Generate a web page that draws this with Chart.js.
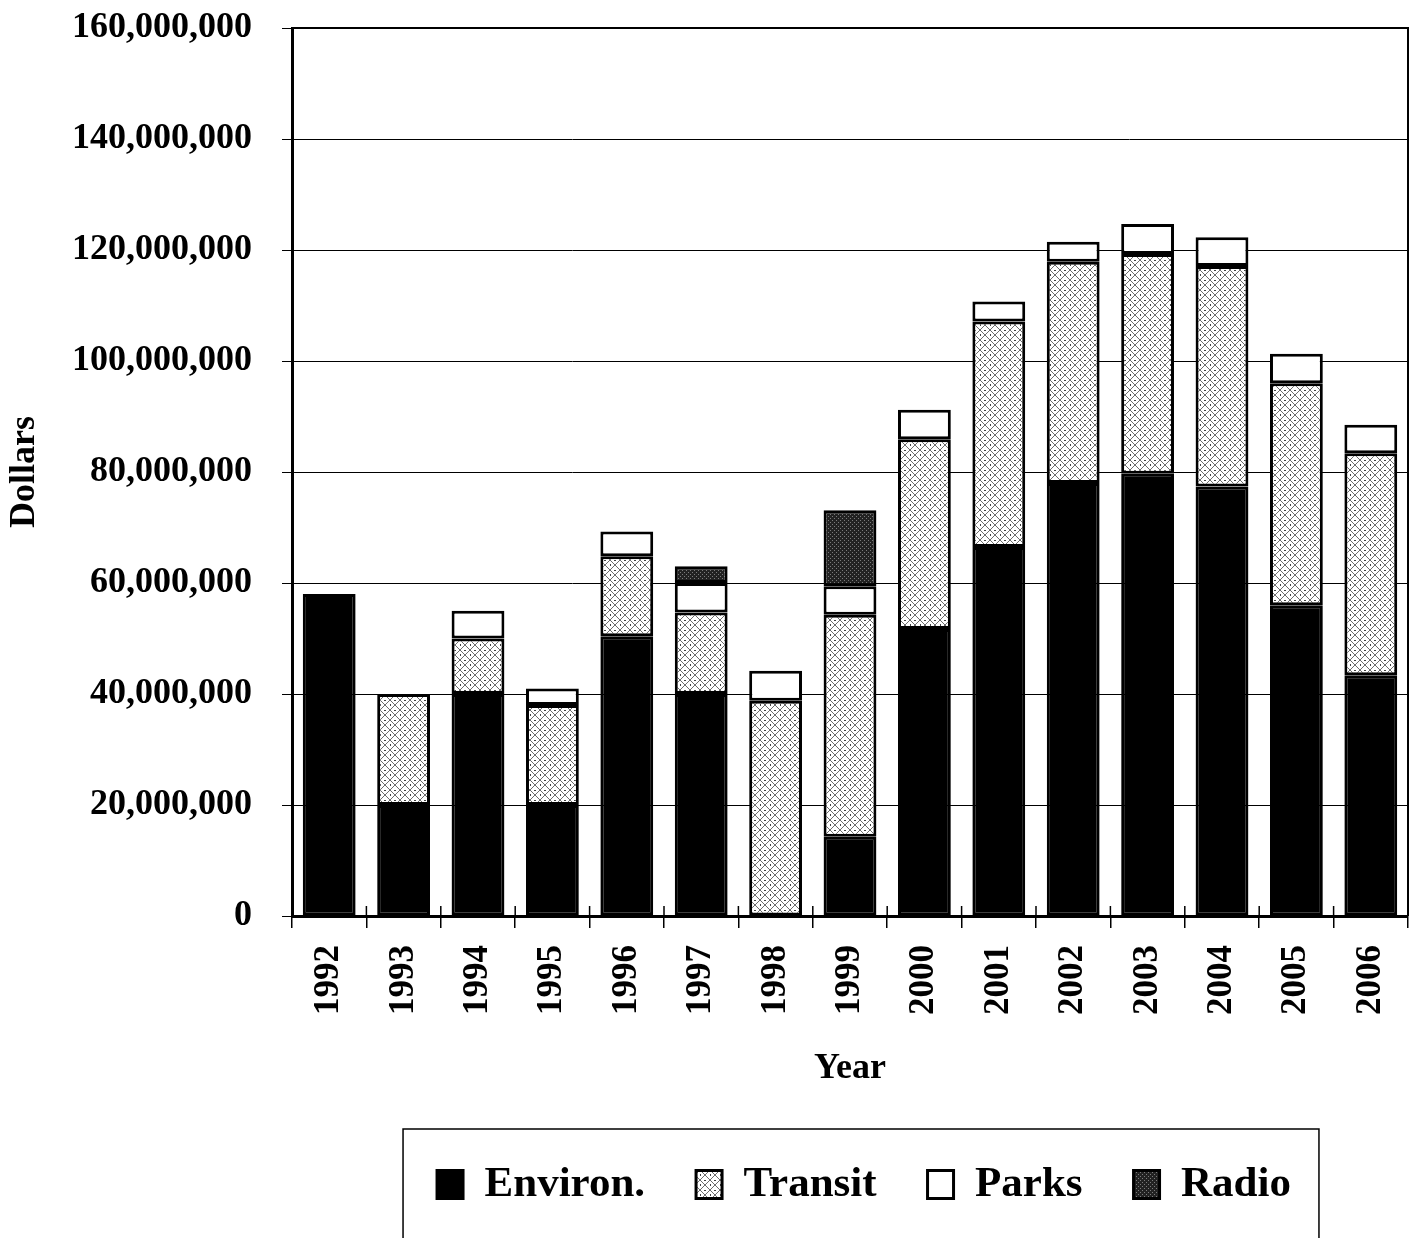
<!DOCTYPE html>
<html>
<head>
<meta charset="utf-8">
<title>Dollars by Year</title>
<script src="https://cdn.jsdelivr.net/npm/chart.js@4.4.1/dist/chart.umd.min.js"></script>
<style>
  body { margin: 0; background: #fff; }
  #chart { display: block; }
</style>
</head>
<body>
<canvas id="chart" width="1414" height="1238"></canvas>
<script>
// data (dollars)
const years = ["1992", "1993", "1994", "1995", "1996", "1997", "1998", "1999",
  "2000", "2001", "2002", "2003", "2004", "2005", "2006"];
const environ = [58000000, 20000000, 40000000, 20000000, 50400000, 40000000, null, 14300000,
  51700000, 66500000, 78000000, 79700000, 77400000, 56000000, 43400000];
const transit = [null, 20000000, 10000000, 18000000, 14400000, 14700000, 38800000, 40000000,
  34200000, 40600000, 39900000, 39600000, 39700000, 40000000, 40000000];
const parks = [null, null, 5000000, 3000000, 4500000, 5300000, 5400000, 5100000,
  5300000, 3600000, 3600000, 5400000, 5200000, 5300000, 5100000];
const radio = [null, null, null, null, null, 3000000, null, 13700000,
  null, null, null, null, null, null, null];
const yTicks = [0, 20000000, 40000000, 60000000, 80000000, 100000000, 120000000, 140000000, 160000000];

// fill patterns for the hatched series
function makePattern(size, draw) {
  const c = document.createElement("canvas");
  c.width = size; c.height = size;
  draw(c.getContext("2d"), size);
  return c.getContext("2d").createPattern(c, "repeat");
}
const transitFill = makePattern(10, (g, s) => {
  g.fillStyle = "#fff";
  g.fillRect(0, 0, s, s);
  g.strokeStyle = "#6e6e6e";
  g.lineWidth = 1;
  g.beginPath();
  g.moveTo(0, 0); g.lineTo(s, s);
  g.moveTo(s, 0); g.lineTo(0, s);
  g.stroke();
  g.fillStyle = "#444";
  g.fillRect(s / 2 - 1, 0, 2, 1);
  g.fillRect(0, s / 2 - 1, 1, 2);
});
const radioFill = makePattern(4, (g, s) => {
  g.fillStyle = "#222";
  g.fillRect(0, 0, s, s);
  g.fillStyle = "#7a7a7a";
  g.fillRect(0, 0, 1, 1);
  g.fillRect(2, 2, 1, 1);
});

const serif = "'Liberation Serif', 'Times New Roman', serif";

// nudge the legend right, to sit where the original has it
const legendShift = {
  id: "legendShift",
  afterLayout(chart) {
    chart.legend.left += 14;
    chart.legend.right += 14;
  }
};

// right side of the frame, ticks that cross the x axis, and the box round the legend
const framePlugin = {
  id: "frame",
  afterDraw(chart) {
    const {ctx, chartArea: a} = chart;
    const x = chart.scales.x;
    ctx.save();
    ctx.strokeStyle = "#000";
    ctx.lineWidth = 2;
    ctx.beginPath();
    ctx.moveTo(a.right, a.top - 1);
    ctx.lineTo(a.right, a.bottom);
    ctx.moveTo(a.left, a.top);
    ctx.lineTo(a.right, a.top);
    ctx.stroke();
    ctx.lineWidth = 1.5;
    ctx.beginPath();
    for (let i = 0; i <= years.length; i++) {
      const px = i < years.length ? x.getPixelForTick(i) - (x.getPixelForTick(1) - x.getPixelForTick(0)) / 2 : a.right;
      ctx.moveTo(px, a.bottom - 10);
      ctx.lineTo(px, a.bottom);
    }
    ctx.stroke();
    const boxes = chart.legend.legendHitBoxes;
    if (boxes && boxes.length) {
      const first = boxes[0], last = boxes[boxes.length - 1];
      const left = first.left - 34;
      const right = last.left + last.width + 28;
      ctx.lineWidth = 1.5;
      ctx.strokeRect(left, first.top - 34, right - left, chart.height);
    }
    ctx.restore();
  }
};

document.addEventListener("DOMContentLoaded", function() {

new Chart("chart", {
  type: "bar",
  data: {
    labels: years,
    datasets: [
      { label: "Environ.", data: environ, backgroundColor: "#000", borderColor: "#000", borderWidth: 3 },
      { label: "Transit", data: transit, backgroundColor: transitFill, borderColor: "#000", borderWidth: 3 },
      { label: "Parks", data: parks, backgroundColor: "#fff", borderColor: "#000", borderWidth: 3 },
      { label: "Radio", data: radio, backgroundColor: radioFill, borderColor: "#000", borderWidth: 3 }
    ]
  },
  options: {
    responsive: false,
    animation: false,
    layout: { padding: { top: 28, right: 6, bottom: 22, left: 0 } },
    datasets: {
      bar: { categoryPercentage: 1, barPercentage: 0.71, borderSkipped: false }
    },
    plugins: {
      tooltip: { enabled: false },
      legend: {
        position: "bottom",
        fullSize: false,
        labels: {
          color: "#000",
          font: { family: serif, size: 43, weight: "bold" },
          boxWidth: 26,
          boxHeight: 28,
          padding: 51
        }
      }
    },
    scales: {
      x: {
        stacked: true,
        afterFit(scale) {
          scale.height = 196;
          scale.paddingLeft = 0;
          scale.paddingRight = 0;
        },
        grid: { display: true, drawOnChartArea: false, color: "#000", lineWidth: 1.5, tickLength: 12 },
        border: { color: "#000", width: 3 },
        ticks: {
          color: "#000",
          font: { family: serif, size: 35, weight: "bold" },
          minRotation: 90,
          maxRotation: 90,
          autoSkip: false,
          padding: 17
        },
        title: {
          display: true,
          text: "Year",
          color: "#000",
          font: { family: serif, size: 36, weight: "bold" },
          padding: { top: 0, bottom: 22 }
        }
      },
      y: {
        stacked: true,
        min: 0,
        max: 160000000,
        afterFit(scale) {
          scale.width = 292;
          scale.paddingTop = 0;
          scale.paddingBottom = 0;
        },
        afterBuildTicks(scale) { scale.ticks = yTicks.map(v => ({ value: v })); },
        grid: { color: "#000", lineWidth: 1, tickLength: 10 },
        border: { color: "#000", width: 3 },
        ticks: {
          color: "#000",
          font: { family: serif, size: 36, weight: "bold" },
          padding: 30,
          callback: v => v.toLocaleString("en-US")
        },
        title: {
          display: true,
          text: "Dollars",
          color: "#000",
          font: { family: serif, size: 36, weight: "bold" },
          padding: { top: 3, bottom: 0 }
        }
      }
    }
  },
  plugins: [legendShift, framePlugin]
});

});
</script>
</body>
</html>
